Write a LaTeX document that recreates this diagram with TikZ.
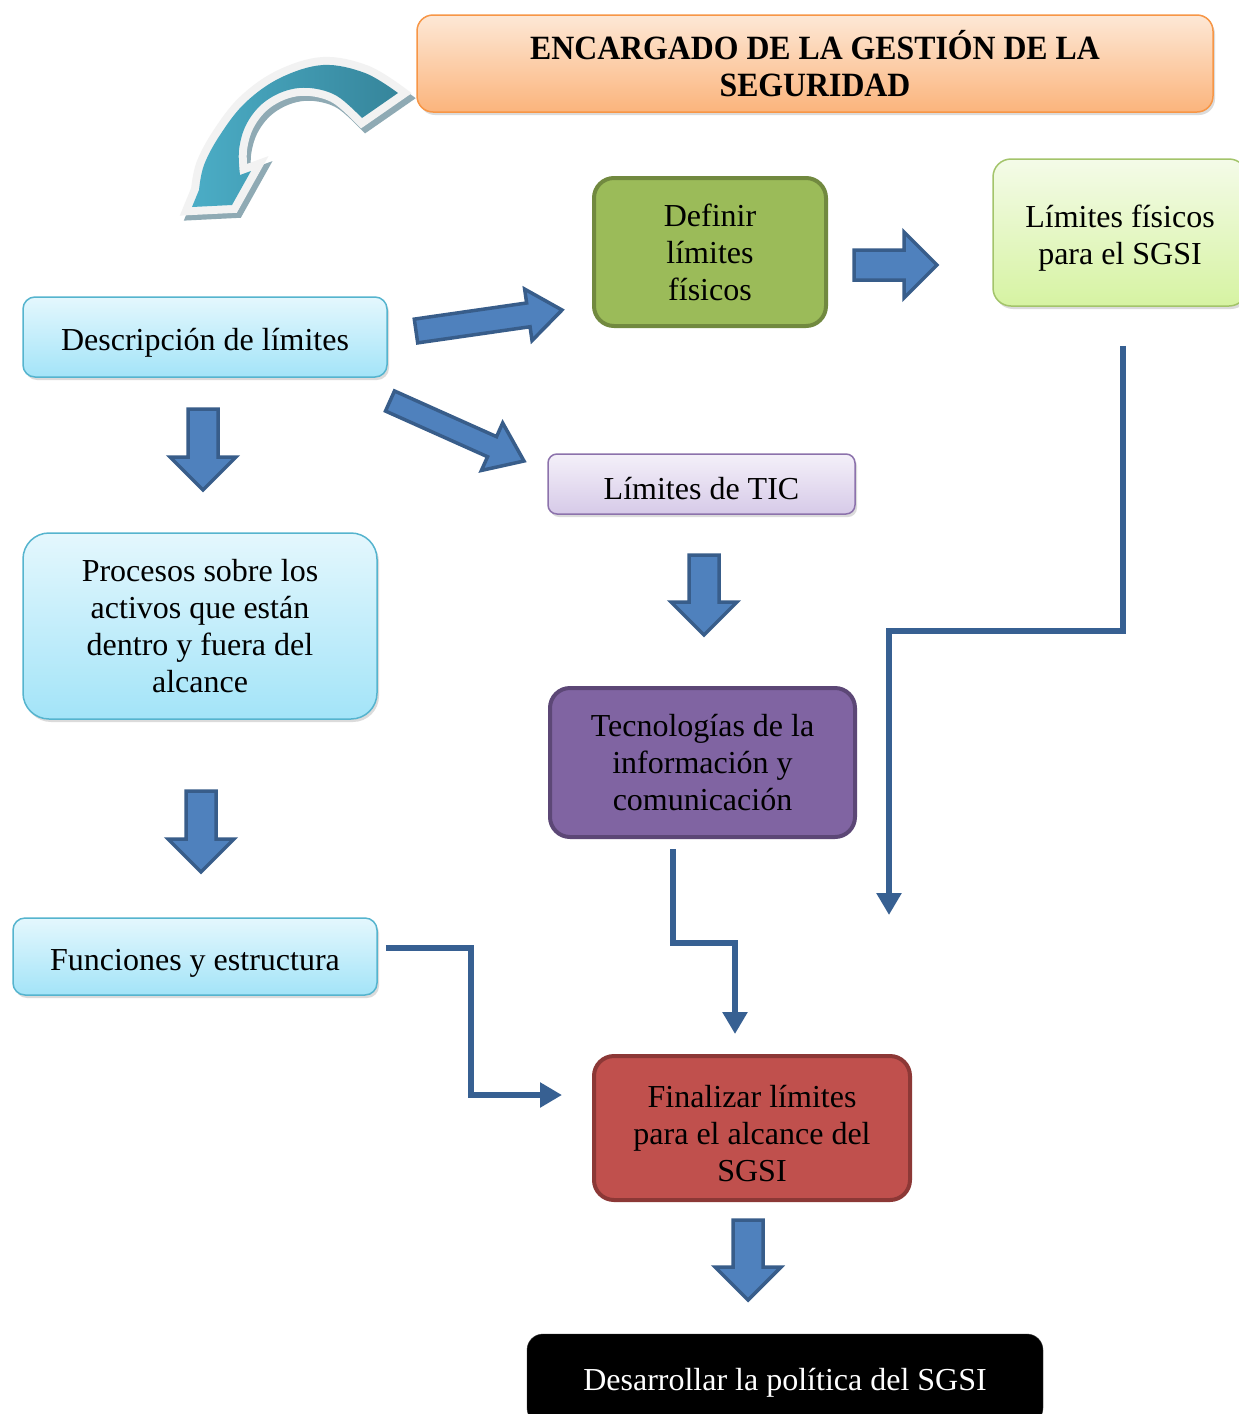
\documentclass[tikz,border=0pt]{standalone}
\usepackage{fontspec}
\setmainfont{Liberation Serif}
\newfontfamily\titlefont[FakeStretch=0.935]{Liberation Serif}
\usetikzlibrary{calc,shadows,arrows.meta}

\definecolor{cyanTop}{HTML}{E4F7FD}
\definecolor{cyanBot}{HTML}{A3E4F8}
\definecolor{cyanLine}{HTML}{55B4CE}
\definecolor{limeTop}{HTML}{F4FBE8}
\definecolor{limeBot}{HTML}{D6F3A2}
\definecolor{limeLine}{HTML}{A3C46A}
\definecolor{lilacTop}{HTML}{F4F0F9}
\definecolor{lilacBot}{HTML}{D6CAE8}
\definecolor{lilacLine}{HTML}{8C72AC}
\definecolor{orangeTop}{HTML}{FDE8D6}
\definecolor{orangeBot}{HTML}{FBB47C}
\definecolor{orangeLine}{HTML}{F79646}
\definecolor{oliveFill}{HTML}{9BBB59}
\definecolor{oliveLine}{HTML}{71893F}
\definecolor{purpleFill}{HTML}{8064A2}
\definecolor{purpleLine}{HTML}{5C4776}
\definecolor{redFill}{HTML}{C0504D}
\definecolor{redLine}{HTML}{8C3836}
\definecolor{arrowFill}{HTML}{4F81BD}
\definecolor{arrowLine}{HTML}{385D8A}
\definecolor{flowBlue}{HTML}{376092}
\definecolor{tealLight}{HTML}{4BADC6}
\definecolor{tealDark}{HTML}{36859B}
\definecolor{curveRim}{HTML}{F2F2F2}
\definecolor{curveShade}{HTML}{8FAAB4}

% invisible rule that fixes the height of a node's first text line
\newcommand\lineheight[1]{\rule{0pt}{#1}}

\tikzset{
  box/.style={align=center, inner sep=0pt, text=black,
    font=\fontsize{32}{37}\selectfont},
  soft/.style={drop shadow={opacity=0.28, shadow xshift=2pt, shadow yshift=-3pt}},
  cyanbox/.style={box, soft, rounded corners=12pt, top color=cyanTop,
    bottom color=cyanBot, draw=cyanLine, line width=1.5pt},
  limebox/.style={box, soft, rounded corners=18pt, top color=limeTop,
    bottom color=limeBot, draw=limeLine, line width=1.5pt},
  lilacbox/.style={box, soft, rounded corners=9pt, top color=lilacTop,
    bottom color=lilacBot, draw=lilacLine, line width=1.5pt},
  titlebox/.style={box, soft, rounded corners=16pt, top color=orangeTop,
    bottom color=orangeBot, draw=orangeLine, line width=1.5pt,
    font=\titlefont\bfseries\fontsize{34}{37}\selectfont},
  solidbox/.style={box, rounded corners=20pt, line width=4pt},
  darkbox/.style={box, rounded corners=16pt, fill=black, draw=black!80,
    text=white},
  flow/.style={draw=flowBlue, line width=6pt, line join=miter,
    -{Triangle[width=24pt,length=22pt]}},
  blockarrow/.style={fill=arrowFill, draw=arrowLine, line width=3.5pt,
    line join=miter},
}

% block arrow: tail, tip, shaft half width, head half width, head length
\newcommand\barrow[5]{%
  \coordinate (ba-b) at ($(#2)!#5!(#1)$);
  \draw[blockarrow] ($(#1)!#3!90:(#2)$) -- ($(ba-b)!#3!-90:(#1)$)
    -- ($(ba-b)!#4!-90:(#1)$) -- (#2) -- ($(ba-b)!#4!90:(#1)$)
    -- ($(ba-b)!#3!90:(#1)$) -- ($(#1)!#3!-90:(#2)$) -- cycle;
}

\begin{document}
\begin{tikzpicture}[x=1pt, y=-1pt]
\useasboundingbox (0,0) rectangle (1239,1414);
\clip (0,0) rectangle (1239,1414);
\fill[white] (0,0) rectangle (1239,1414);

% curved arrow in the upper left corner: shadow, pale rim, shaded body
\def\curvepath{(398,93) -- plot[smooth, tension=0.6] coordinates
    {(398,93) (365,73) (323,65) (280,78) (245,103) (220,135) (204,165) (199,190)}
  -- (192,207) -- (232,205) -- (251,171) -- (240,175)
  -- plot[smooth, tension=0.6] coordinates
    {(240,175) (239,150) (246,125) (262,104) (285,91) (310,88) (337,96) (362,118)}
  -- cycle}
\path[fill=curveShade, draw=curveShade, line width=16pt, line join=miter,
  shift={(4,5)}] \curvepath;
\path[fill=curveRim, draw=curveRim, line width=16pt, line join=miter] \curvepath;
\path[left color=tealLight, right color=tealDark] \curvepath;

% nodes
\node[titlebox, minimum width=796pt, minimum height=97pt] (title) at (815,63.5)
  {ENCARGADO DE LA GESTIÓN DE LA\\SEGURIDAD};
\node[cyanbox, minimum width=364pt, minimum height=80pt] (desc) at (205,337)
  {\lineheight{34pt}Descripción de límites};
\node[solidbox, fill=oliveFill, draw=oliveLine, minimum width=232pt,
  minimum height=148pt] (defin) at (710,252) {Definir\\límites\\físicos};
\node[limebox, minimum width=254pt, minimum height=147pt] (limfis) at (1120,232.5)
  {\lineheight{34pt}Límites físicos\\para el SGSI};
\node[lilacbox, minimum width=307pt, minimum height=60pt] (tic) at (701.5,484)
  {\lineheight{31.5pt}Límites de TIC};
\node[cyanbox, rounded corners=26pt, minimum width=354pt, minimum height=186pt]
  (proc) at (200,626) {Procesos sobre los\\activos que están\\dentro y fuera del\\alcance};
\node[solidbox, fill=purpleFill, draw=purpleLine, minimum width=305pt,
  minimum height=149pt] (tec) at (702.5,762.5)
  {Tecnologías de la\\información y\\comunicación};
\node[cyanbox, minimum width=364pt, minimum height=77pt] (func) at (195,956.5)
  {\lineheight{34pt}Funciones y estructura};
\node[solidbox, fill=redFill, draw=redLine, minimum width=316pt,
  minimum height=144pt] (fin) at (752,1128)
  {\lineheight{34pt}Finalizar límites\\para el alcance del\\SGSI};
\node[darkbox, minimum width=516pt, minimum height=90pt] (des) at (785,1379)
  {\lineheight{29.5pt}Desarrollar la política del SGSI};

% block arrows
\coordinate (a1t) at (203,409);  \coordinate (a1h) at (203,490);
\coordinate (a2t) at (201,791);  \coordinate (a2h) at (201,872);
\coordinate (a3t) at (704,555);  \coordinate (a3h) at (704,635);
\coordinate (a4t) at (748,1220); \coordinate (a4h) at (748,1300);
\coordinate (a5t) at (854,265);  \coordinate (a5h) at (937,265);
\coordinate (a6t) at (416,331);  \coordinate (a6h) at (562,310);
\coordinate (a7t) at (390,401);  \coordinate (a7h) at (524,461);
\barrow{a1t}{a1h}{15pt}{33pt}{33pt}
\barrow{a2t}{a2h}{15pt}{33pt}{33pt}
\barrow{a3t}{a3h}{15pt}{33pt}{33pt}
\barrow{a4t}{a4h}{15pt}{33pt}{33pt}
\barrow{a5t}{a5h}{15pt}{33pt}{33pt}
\barrow{a6t}{a6h}{12pt}{26pt}{34pt}
\barrow{a7t}{a7h}{11pt}{26pt}{35pt}

% elbow connectors
\coordinate (j1) at (889,915);
\draw[flow] ($(limfis.south)+(3,39)$) -- ++(0,285) -| (j1);
\draw[flow] ($(tec.south)+(-29.5,10)$) -- ++(0,94) -| ($(fin.north)+(-17,-20)$);
\draw[flow] ($(func.east)+(8,-8.5)$) -| ($(fin.west)+(-121,-33)$)
  -- ($(fin.west)+(-30,-33)$);
\end{tikzpicture}
\end{document}
